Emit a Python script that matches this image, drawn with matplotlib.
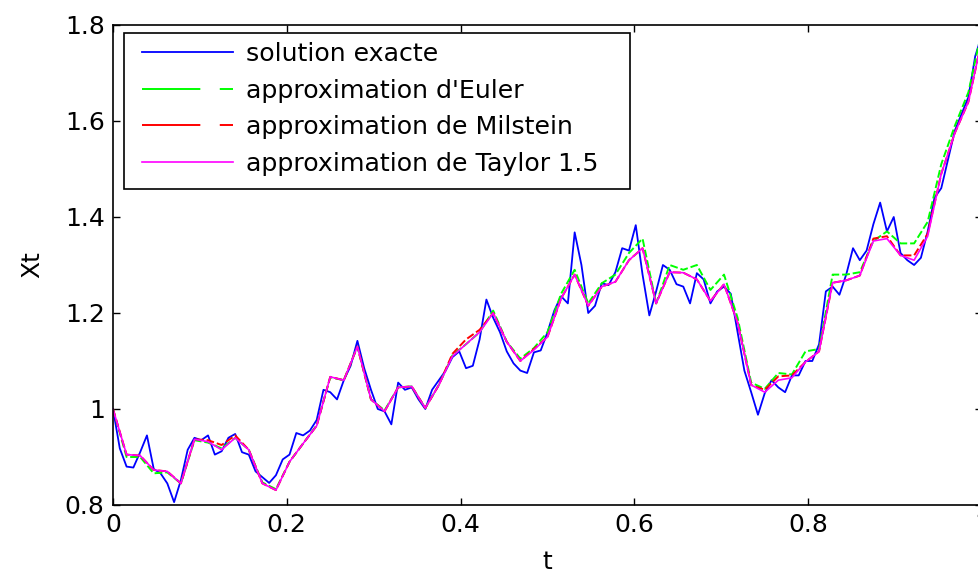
import numpy as np
import matplotlib
matplotlib.use("Agg")
import matplotlib.pyplot as plt
from matplotlib.lines import Line2D
from matplotlib.patches import Rectangle

# exact solution on the fine grid (t = k/128)
exacte = [1.0, 0.918, 0.88, 0.878, 0.91, 0.945, 0.875, 0.866, 0.845, 0.806,
          0.852, 0.915, 0.94, 0.935, 0.945, 0.905, 0.912, 0.94, 0.948, 0.91,
          0.905, 0.87, 0.858, 0.846, 0.862, 0.895, 0.905, 0.95, 0.945, 0.955,
          0.977, 1.04, 1.035, 1.02, 1.06, 1.09, 1.142, 1.085, 1.04, 1.0,
          0.995, 0.968, 1.055, 1.04, 1.045, 1.02, 1.0, 1.04, 1.06, 1.08,
          1.108, 1.12, 1.085, 1.09, 1.145, 1.228, 1.19, 1.16, 1.12, 1.095,
          1.08, 1.075, 1.118, 1.122, 1.16, 1.205, 1.235, 1.22, 1.368, 1.30,
          1.20, 1.215, 1.262, 1.258, 1.285, 1.335, 1.33, 1.383, 1.28, 1.195,
          1.245, 1.30, 1.29, 1.26, 1.255, 1.22, 1.283, 1.27, 1.22, 1.245,
          1.255, 1.24, 1.16, 1.08, 1.035, 0.988, 1.033, 1.06, 1.045, 1.035,
          1.07, 1.07, 1.10, 1.10, 1.135, 1.245, 1.255, 1.238, 1.28, 1.335,
          1.31, 1.33, 1.385, 1.43, 1.37, 1.40, 1.325, 1.31, 1.30, 1.315,
          1.37, 1.44, 1.46, 1.52, 1.58, 1.615, 1.65, 1.735, 1.78]

# approximations on the coarse grid (t = k/64)
euler = [1.0, 0.90, 0.90, 0.866, 0.868, 0.845, 0.935, 0.93, 0.918, 0.94,
         0.915, 0.847, 0.833, 0.89, 0.928, 0.966, 1.066, 1.06, 1.13, 1.02,
         0.997, 1.045, 1.047, 1.002, 1.05, 1.112, 1.135, 1.16, 1.205, 1.14,
         1.105, 1.127, 1.16, 1.24, 1.29, 1.22, 1.262, 1.28, 1.325, 1.355,
         1.22, 1.30, 1.29, 1.30, 1.248, 1.28, 1.19, 1.055, 1.042, 1.075,
         1.072, 1.12, 1.125, 1.28, 1.28, 1.285, 1.35, 1.37, 1.345, 1.345,
         1.39, 1.51, 1.59, 1.66, 1.79]

milstein = [1.0, 0.905, 0.903, 0.873, 0.870, 0.845, 0.937, 0.935, 0.925, 0.945,
            0.915, 0.845, 0.831, 0.89, 0.928, 0.965, 1.067, 1.06, 1.13, 1.02,
            0.995, 1.045, 1.047, 1.002, 1.05, 1.115, 1.145, 1.165, 1.20, 1.14,
            1.10, 1.125, 1.15, 1.23, 1.28, 1.215, 1.255, 1.265, 1.31, 1.335,
            1.22, 1.285, 1.284, 1.27, 1.225, 1.26, 1.18, 1.05, 1.04, 1.068,
            1.07, 1.098, 1.12, 1.263, 1.268, 1.278, 1.355, 1.36, 1.32, 1.32,
            1.365, 1.49, 1.575, 1.64, 1.77]

taylor = [1.0, 0.905, 0.903, 0.873, 0.870, 0.845, 0.937, 0.932, 0.915, 0.94,
          0.915, 0.845, 0.831, 0.89, 0.928, 0.965, 1.067, 1.06, 1.13, 1.02,
          0.995, 1.045, 1.047, 1.002, 1.05, 1.11, 1.135, 1.16, 1.20, 1.14,
          1.10, 1.123, 1.15, 1.23, 1.28, 1.215, 1.255, 1.265, 1.31, 1.335,
          1.22, 1.285, 1.284, 1.27, 1.225, 1.26, 1.18, 1.05, 1.035, 1.06,
          1.065, 1.098, 1.12, 1.263, 1.268, 1.278, 1.35, 1.355, 1.32, 1.31,
          1.36, 1.49, 1.575, 1.64, 1.77]

labels = ["solution exacte", "approximation d'Euler",
          "approximation de Milstein", "approximation de Taylor 1.5"]
couleurs = ["#0000ff", "#00ff00", "#ff0000", "#ff00ff"]

plt.rcParams["font.family"] = "DejaVu Sans"
plt.rcParams["font.size"] = 18

W, H = 979, 569
fig = plt.figure(figsize=(W / 100, H / 100), dpi=100)
ax = fig.add_axes([113 / W, 1 - 505 / H, 869 / W, 480 / H])

t_fin = np.linspace(0, 1, len(exacte))
t_gros = np.linspace(0, 1, len(taylor))

ax.plot(t_fin, exacte, color=couleurs[0], lw=1.3)
ax.plot(t_gros, euler, color=couleurs[1], lw=1.4, dashes=(4, 1.5))
ax.plot(t_gros, milstein, color=couleurs[2], lw=1.4, dashes=(4, 1.5))
ax.plot(t_gros, taylor, color=couleurs[3], lw=1.2)

ax.set_xlim(0, 1)
ax.set_ylim(0.8, 1.8)
ax.set_xticks([0, 0.2, 0.4, 0.6, 0.8, 1])
ax.set_xticklabels(["0", "0.2", "0.4", "0.6", "0.8", "1"])
ax.set_yticks([0.8, 1, 1.2, 1.4, 1.6, 1.8])
ax.set_yticklabels(["0.8", "1", "1.2", "1.4", "1.6", "1.8"])
ax.tick_params(direction="in", length=5, width=1, top=True, right=True,
               labelsize=18, pad=6)
for s in ax.spines.values():
    s.set_linewidth(1.2)
ax.set_xlabel("t", labelpad=9)
ax.set_ylabel("Xt", labelpad=15)

# legend, MATLAB style box drawn separately
proxies = [Line2D([], [], color=couleurs[0], lw=1.3),
           Line2D([], [], color=couleurs[1], lw=1.4, dashes=(30, 10)),
           Line2D([], [], color=couleurs[2], lw=1.4, dashes=(30, 10)),
           Line2D([], [], color=couleurs[3], lw=1.2)]
fig.legend(proxies, labels, loc="upper left",
           bbox_to_anchor=(142 / W, 1 - 42 / H), frameon=False,
           borderpad=0, borderaxespad=0, handlelength=3.6,
           handletextpad=0.5, labelspacing=0.5, fontsize=18.2)
fig.patches.append(Rectangle((124 / W, 1 - 189 / H), 506 / W, 156 / H,
                             transform=fig.transFigure, fill=True,
                             facecolor="white", edgecolor="black", lw=1.2,
                             zorder=2))

fig.savefig("out.png", dpi=100)
